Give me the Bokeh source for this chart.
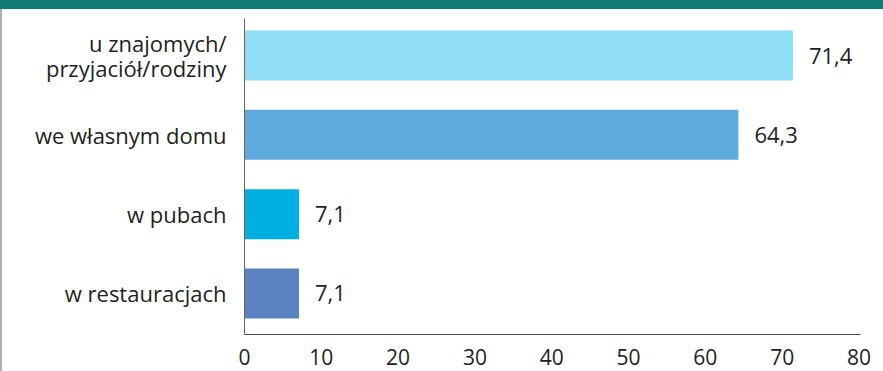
from bokeh.plotting import figure
from bokeh.models import Range1d, FixedTicker, Div, ColumnDataSource
from bokeh.layouts import column
from bokeh.core.properties import value
from bokeh.embed import file_html
from bokeh.resources import INLINE

categories = ["u znajomych/\nprzyjaciół/rodziny", "we własnym domu", "w pubach", "w restauracjach"]
values = [71.4, 64.3, 7.1, 7.1]
value_labels = ["71,4", "64,3", "7,1", "7,1"]
colors = ["#90def5", "#5faadd", "#00b0e0", "#5a82c1"]
x_ticks = [0, 10, 20, 30, 40, 50, 60, 70, 80]

FONT = "Open Sans"
TXT = "#231f20"

pos = list(range(len(categories)))
src = ColumnDataSource(dict(y=pos, v=values, lab=value_labels, c=colors))

p = figure(frame_width=614, frame_height=316, output_backend="svg", toolbar_location=None,
           x_range=Range1d(0, 80.2), y_range=Range1d(3.517, -0.467),
           min_border_left=242, min_border_right=27, min_border_top=9, min_border_bottom=37)
p.outline_line_color = None
p.grid.grid_line_color = None
p.background_fill_color = "white"
p.border_fill_color = "white"

p.hbar(y="y", right="v", left=0, height=0.63, color="c", line_color=None, source=src)
p.text(x="v", y="y", text="lab", x_offset=16, text_baseline="middle", text_align="left",
       text_font=value(FONT), text_font_size="22px", text_color=TXT, source=src)

xa = p.xaxis[0]
xa.ticker = FixedTicker(ticks=x_ticks)
xa.major_tick_line_color = None
xa.minor_tick_line_color = None
xa.major_tick_out = 0
xa.major_label_standoff = 14
xa.axis_line_color = "#4a4858"
xa.major_label_text_font = FONT
xa.major_label_text_font_size = "21px"
xa.major_label_text_color = TXT

ya = p.yaxis[0]
ya.ticker = FixedTicker(ticks=pos)
ya.major_label_overrides = {i: c for i, c in zip(pos, categories)}
ya.major_tick_line_color = None
ya.minor_tick_line_color = None
ya.major_tick_out = 0
ya.major_label_standoff = 18
ya.axis_line_color = "#666666"
ya.major_label_text_font = FONT
ya.major_label_text_font_size = "22px"
ya.major_label_text_color = TXT
ya.major_label_text_line_height = 0.85

p.styles = {"border-left": "2px solid #b0b0b0", "box-sizing": "border-box"}

band = Div(text="", width=883, height=9, styles={"background-color": "#0f7b74", "margin": "0", "padding": "0"})

layout = column(band, p, spacing=0)
open("out.html", "w").write(file_html(layout, INLINE))
